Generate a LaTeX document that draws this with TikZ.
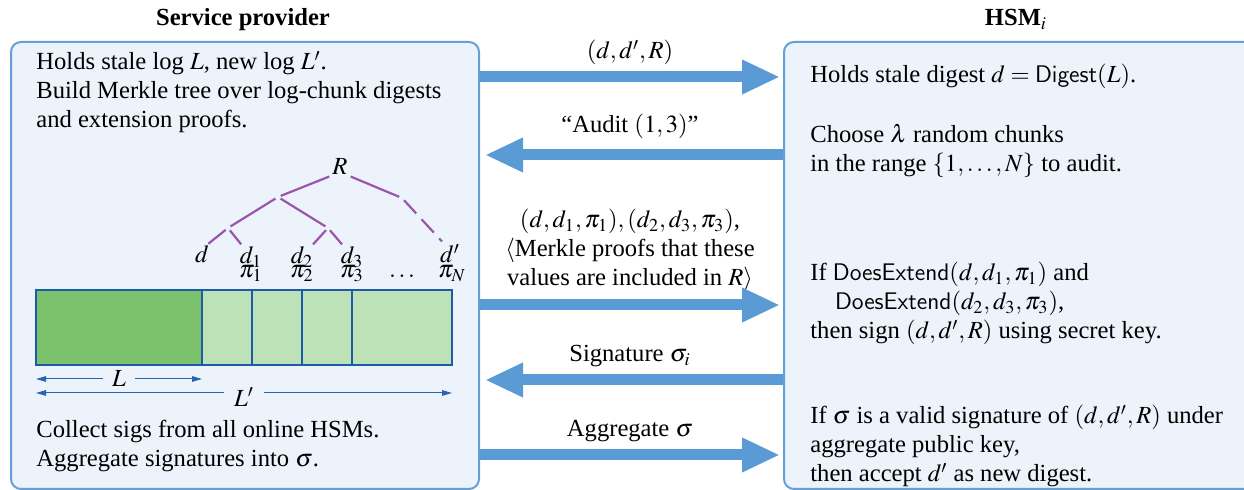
\documentclass[tikz,border=0pt]{standalone}
\usepackage{mathptmx}
\usepackage[no-math]{fontspec}
\setmainfont{Liberation Serif}
\usetikzlibrary{arrows.meta}
\definecolor{boxfill}{RGB}{236,243,250}
\definecolor{boxline}{RGB}{100,160,215}
\definecolor{arrowblue}{RGB}{91,155,213}
\definecolor{treepurple}{RGB}{155,85,170}
\definecolor{dimblue}{RGB}{40,100,180}
\definecolor{barblue}{RGB}{30,90,170}
\definecolor{darkgreen}{RGB}{124,194,108}
\definecolor{lightgreen}{RGB}{190,226,183}
\begin{document}
\begin{tikzpicture}[x=0.5pt,y=-0.5pt,
  every node/.style={font=\fontsize{12.3}{14.5}\selectfont, inner sep=0pt},
  txt/.style={anchor=base west, align=left},
  lbl/.style={anchor=base, align=center},
  panel/.style={draw=boxline, fill=boxfill, line width=1pt, rounded corners=5pt, anchor=north west},
  bigarrow/.style={draw=arrowblue, line width=5.5pt, -{Triangle[length=19pt,width=16pt]}},
  treeedge/.style={draw=treepurple, line width=1.1pt, shorten >=1.5pt, shorten <=1.5pt},
  dimarrow/.style={draw=dimblue, line width=0.5pt, {Triangle[length=5pt,width=2.8pt]}-{Triangle[length=5pt,width=2.8pt]}},
  chunk/.style={draw=barblue, line width=1pt, fill=lightgreen, anchor=north west, outer sep=0pt, minimum height=37.5pt}]
\useasboundingbox (0,0) rectangle (1244,490);
\clip (0,0) rectangle (1244,490);

% titles
\node[lbl, font=\fontsize{12.3}{14.5}\selectfont\bfseries] (sp) at (243,26) {Service provider};
\node[lbl, font=\fontsize{12.3}{14.5}\selectfont\bfseries] (hsm) at (1016,26) {HSM$_i$};

% panels
\node[panel, minimum width=234pt, minimum height=223.5pt] (lbox) at (10,41) {};
\node[panel, minimum width=240pt, minimum height=223.5pt] (rbox) at (783,41) {};

% left texts (anchor = baseline of last line)
\node[txt] (t1) at (36,128) {Holds stale log $L$, new log $L'$.\\Build Merkle tree over log-chunk digests\\and extension proofs.};
\node[txt] (t2) at (36,467) {Collect sigs from all online HSMs.\\Aggregate signatures into $\sigma$.};

% tree
\node[lbl] (R) at (340,175) {$R$};
\coordinate (A) at (278,197);
\coordinate (B) at (228,228);
\coordinate (C) at (328,228);
\coordinate (E) at (402,198);
\node[lbl] (d) at (202,263) {$d$};
\node[lbl] (d1) at (251,264) {$d_1$};
\node[lbl] (p1) at (251,278) {$\pi_1$};
\node[lbl] (d2) at (302,264) {$d_2$};
\node[lbl] (p2) at (302,278) {$\pi_2$};
\node[lbl] (d3) at (352,264) {$d_3$};
\node[lbl] (p3) at (352,278) {$\pi_3$};
\node[lbl] (dots) at (402,278) {$\ldots$};
\node[lbl] (dp) at (450,263) {$d'$};
\node[lbl] (pN) at (452,278) {$\pi_N$};
\draw[treeedge] (R.south west) -- (A);
\draw[treeedge] (A) -- (B);
\draw[treeedge] (A) -- (C);
\draw[treeedge] (B) -- ([xshift=2pt]d.north);
\draw[treeedge] (B) -- ([xshift=-4pt]d1.north);
\draw[treeedge] (C) -- ([xshift=4.5pt]d2.north);
\draw[treeedge] (C) -- ([xshift=-4pt]d3.north);
\draw[treeedge] (R.south east) -- (E);
\draw[treeedge, dash pattern=on 9pt off 4pt] (E) -- ([xshift=-3pt]dp.north);

% log bar
\node[chunk, fill=darkgreen, minimum width=83pt] (c0) at (36,290) {};
\node[chunk, minimum width=25pt] (c1) at (c0.north east) {};
\node[chunk, minimum width=25pt] (c2) at (c1.north east) {};
\node[chunk, minimum width=25pt] (c3) at (c2.north east) {};
\node[chunk, minimum width=50pt] (c4) at (c3.north east) {};
\draw[dimarrow] (c0.south west |- 0,379) -- node[fill=boxfill, inner xsep=4.5pt, inner ysep=1pt] (Ll) {$L$} (c0.south east |- 0,379);
\draw[dimarrow] (c0.south west |- 0,393) -- node[fill=boxfill, inner xsep=5pt, inner ysep=1pt, yshift=-2pt] (Lp) {$L'$} (c4.south east |- 0,393);

% right texts
\node[txt] (h1) at (810,83) {Holds stale digest $d=\mathsf{Digest}(L)$.};
\node[txt] (h2) at (810,172) {Choose $\lambda$ random chunks\\in the range $\{1,\ldots,N\}$ to audit.};
\node[txt] (h3) at (810,339) {If $\mathsf{DoesExtend}(d,d_1,\pi_1)$ and\\\hspace*{1em}$\mathsf{DoesExtend}(d_2,d_3,\pi_3)$,\\then sign $(d,d',R)$ using secret key.};
\node[txt] (h4) at (810,482) {If $\sigma$ is a valid signature of $(d,d',R)$ under\\aggregate public key,\\then accept $d'$ as new digest.};

% messages
\node[lbl] (m1) at (630,59) {$(d,d',R)$};
\node[lbl] (m2) at (630,133) {“Audit $(1,3)$”};
\node[lbl] (m3) at (630,286) {$(d,d_1,\pi_1),(d_2,d_3,\pi_3)$,\\$\langle$Merkle proofs that these\\values are included in $R\rangle$};
\node[lbl] (m4) at (630,362) {Signature $\sigma_i$};
\node[lbl] (m5) at (630,437) {Aggregate $\sigma$};

\draw[bigarrow, shorten >=1.5pt] (lbox.east |- 0,77) -- (rbox.west |- 0,77);
\draw[bigarrow, shorten >=2.5pt] (rbox.west |- 0,155) -- (lbox.east |- 0,155);
\draw[bigarrow, shorten >=1.5pt] (lbox.east |- 0,305) -- (rbox.west |- 0,305);
\draw[bigarrow, shorten >=2.5pt] (rbox.west |- 0,380) -- (lbox.east |- 0,380);
\draw[bigarrow, shorten >=1.5pt] (lbox.east |- 0,455) -- (rbox.west |- 0,455);
\end{tikzpicture}
\end{document}
